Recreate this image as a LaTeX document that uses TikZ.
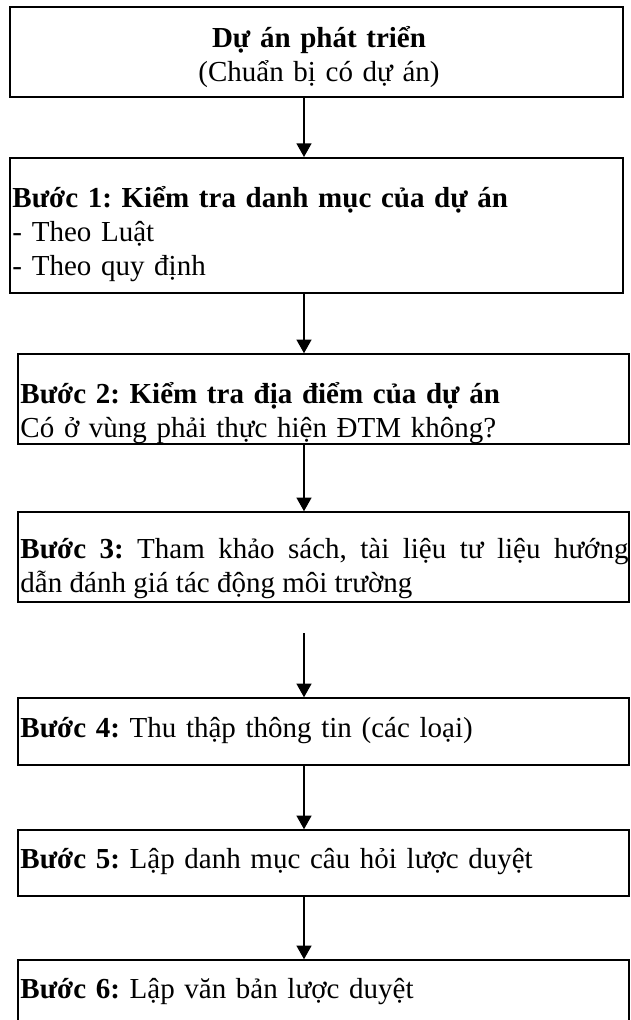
\documentclass[tikz,border=0pt]{standalone}
\usepackage{fontspec}
\setmainfont{Liberation Serif}
\usetikzlibrary{arrows.meta}
\tikzset{
	khung/.style={draw, line width=0.6pt, inner sep=0pt, minimum width=#1},
	chu/.style={inner sep=0pt, text width=#1, align=left, anchor=base west, font=\fontsize{11.6}{13.6}\selectfont\frenchspacing},
	muiten/.style={-{Triangle[width=6pt,length=5.5pt]}, line width=0.7pt}
}

\begin{document}
\begin{tikzpicture}[x=0.4pt,y=-0.4pt]
			%%%%% START %%%%%
			\clip (0,0) rectangle (631,1020);
			
			\node[khung=245.2pt, minimum height=36pt, line width=0.8pt] (a) at (316.5,52) {};
			\node[chu=245.2pt, anchor=base, align=center] (a-chu) at (319,47) {\textbf{Dự án phát triển}\\(Chuẩn bị có dự án)};
			
			\node[khung=245.2pt, minimum height=54pt, line width=0.8pt] (b) at (316.5,225.5) {};
			\node[chu=240pt] (b-chu) at (12,207) {\textbf{Bước 1: Kiểm tra danh mục của dự án}\\- Theo Luật\\- Theo quy định};
			
			\node[khung=244.4pt, minimum height=36pt] (c) at (323.5,399) {};
			\node[chu=240pt] (c-chu) at (20,403) {\textbf{Bước 2: Kiểm tra địa điểm của dự án}\\Có ở vùng phải thực hiện ĐTM không?};
			
			\node[khung=244.4pt, minimum height=36pt] (d) at (323.5,557) {};
			\node[chu=243.2pt, align=justify] (d-chu) at (20,558) {\textbf{Bước 3:} Tham khảo sách, tài liệu tư liệu hướng\linebreak dẫn đánh giá tác động môi trường};
			
			\node[khung=244.4pt, minimum height=26.8pt] (e) at (323.5,731.5) {};
			\node[chu=240pt] (e-chu) at (20,737) {\textbf{Bước 4:} Thu thập thông tin (các loại)};
			
			\node[khung=244.4pt, minimum height=26.4pt] (f) at (323.5,863) {};
			\node[chu=240pt] (f-chu) at (20,868) {\textbf{Bước 5:} Lập danh mục câu hỏi lược duyệt};
			
			\node[khung=244.4pt, minimum height=32pt] (g) at (323.5,1000) {};
			\node[chu=240pt] (g-chu) at (20,998) {\textbf{Bước 6:} Lập văn bản lược duyệt};
			
			% mui ten
			\coordinate (truc) at (304,0);
			\coordinate (d-duoi) at (304,633);
			\draw[muiten] (a.south -| truc) -- (b.north -| truc);
			\draw[muiten] (b.south -| truc) -- (c.north -| truc);
			\draw[muiten] (c.south -| truc) -- (d.north -| truc);
			\draw[muiten] (d-duoi) -- (e.north -| truc);
			\draw[muiten] (e.south -| truc) -- (f.north -| truc);
			\draw[muiten] (f.south -| truc) -- (g.north -| truc);
			%%%%% END %%%%%
\end{tikzpicture}
\end{document}
